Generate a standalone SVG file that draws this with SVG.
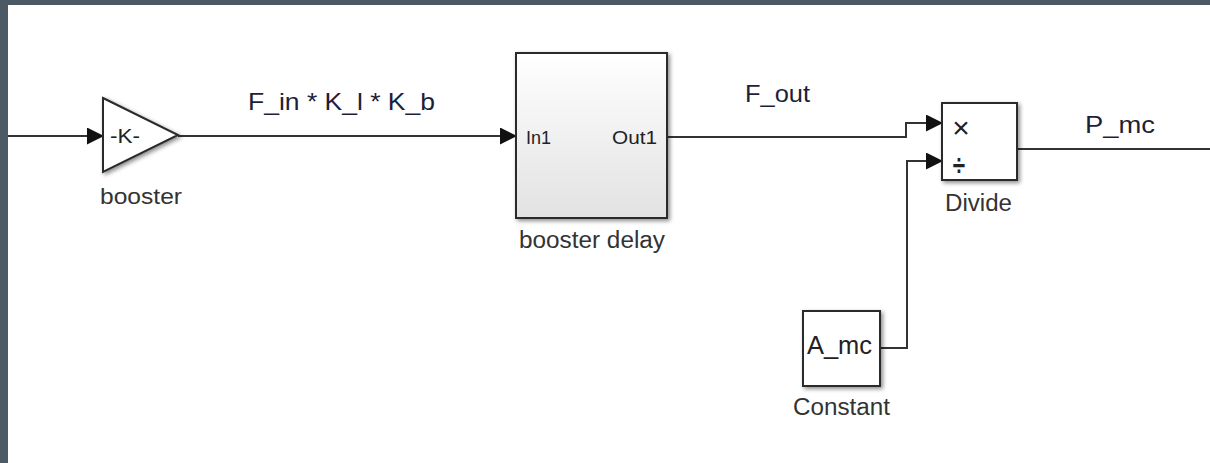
<svg xmlns="http://www.w3.org/2000/svg" width="1210" height="463" viewBox="0 0 1210 463">
<defs>
<style>
.blk{stroke:#2a2a2a;stroke-width:2}
.wire{fill:none;stroke:#333;stroke-width:2}
.lbl{font-family:"Liberation Sans",Arial,sans-serif;fill:#333}
.sig{font-family:"Liberation Sans",Arial,sans-serif;fill:#1e1e38}
.inner{font-family:"Liberation Sans",Arial,sans-serif;fill:#222}
</style>
<linearGradient id="g1" x1="0" y1="0" x2="0" y2="1">
<stop offset="0" stop-color="#ffffff"/>
<stop offset="1" stop-color="#e2e2e2"/>
</linearGradient>
<filter id="sh" x="-20%" y="-20%" width="150%" height="150%">
<feDropShadow dx="2" dy="2" stdDeviation="2" flood-color="#000" flood-opacity="0.45"/>
</filter>
<marker id="ah" markerWidth="17" markerHeight="17" refX="16" refY="8.5" orient="auto" markerUnits="userSpaceOnUse">
<path d="M0,0 L17,8.5 L0,17 Z" fill="#111"/>
</marker>
</defs>
<rect x="0" y="0" width="1210" height="463" fill="#ffffff"/>
<rect x="0" y="0" width="1210" height="5" fill="#4b5a64"/>
<rect x="0" y="0" width="8" height="463" fill="#4b5a64"/>

<g id="connectors">
<path class="wire" d="M8,136 H103" marker-end="url(#ah)"/>
<path class="wire" d="M178,136 H516" marker-end="url(#ah)"/>
<path class="wire" d="M667,137 H906 V123 H942" marker-end="url(#ah)"/>
<path class="wire" d="M880,348 H907 V161 H942" marker-end="url(#ah)"/>
<path class="wire" d="M1017,149 H1210"/>
<text class="sig" x="248" y="110" font-size="24" textLength="187" lengthAdjust="spacingAndGlyphs">F_in * K_l * K_b</text>
<text class="sig" x="745" y="102" font-size="24" textLength="65" lengthAdjust="spacingAndGlyphs">F_out</text>
<text class="sig" x="1085" y="133" font-size="23" textLength="70" lengthAdjust="spacingAndGlyphs">P_mc</text>
</g>

<g id="booster">
<path class="blk" d="M103,98 L178,135 L103,172 Z" fill="#fff" filter="url(#sh)"/>
<text class="inner" x="110" y="143" font-size="20" textLength="30" lengthAdjust="spacingAndGlyphs">-K-</text>
<text class="lbl" x="100" y="204" font-size="22" textLength="82" lengthAdjust="spacingAndGlyphs">booster</text>
</g>

<g id="booster-delay">
<rect class="blk" x="516" y="53" width="151" height="165" fill="url(#g1)" filter="url(#sh)"/>
<text class="inner" x="526" y="144" font-size="19" textLength="25" lengthAdjust="spacingAndGlyphs">In1</text>
<text class="inner" x="612" y="144" font-size="19" textLength="45" lengthAdjust="spacingAndGlyphs">Out1</text>
<text class="lbl" x="519" y="248" font-size="23" textLength="146" lengthAdjust="spacingAndGlyphs">booster delay</text>
</g>

<g id="divide">
<rect class="blk" x="942" y="103" width="75" height="77" fill="#fff" filter="url(#sh)"/>
<text class="inner" x="961" y="138" font-size="30" text-anchor="middle">×</text>
<text class="inner" x="959" y="175" font-size="30" font-weight="bold" text-anchor="middle" transform="translate(959,0) scale(0.75,1) translate(-959,0)">÷</text>
<text class="lbl" x="945" y="211" font-size="23" textLength="67" lengthAdjust="spacingAndGlyphs">Divide</text>
</g>

<g id="constant">
<rect class="blk" x="803" y="311" width="77" height="75" fill="#fff" filter="url(#sh)"/>
<text class="inner" x="807" y="354" font-size="25" textLength="65" lengthAdjust="spacingAndGlyphs">A_mc</text>
<text class="lbl" x="793" y="415" font-size="23" textLength="97" lengthAdjust="spacingAndGlyphs">Constant</text>
</g>
</svg>
